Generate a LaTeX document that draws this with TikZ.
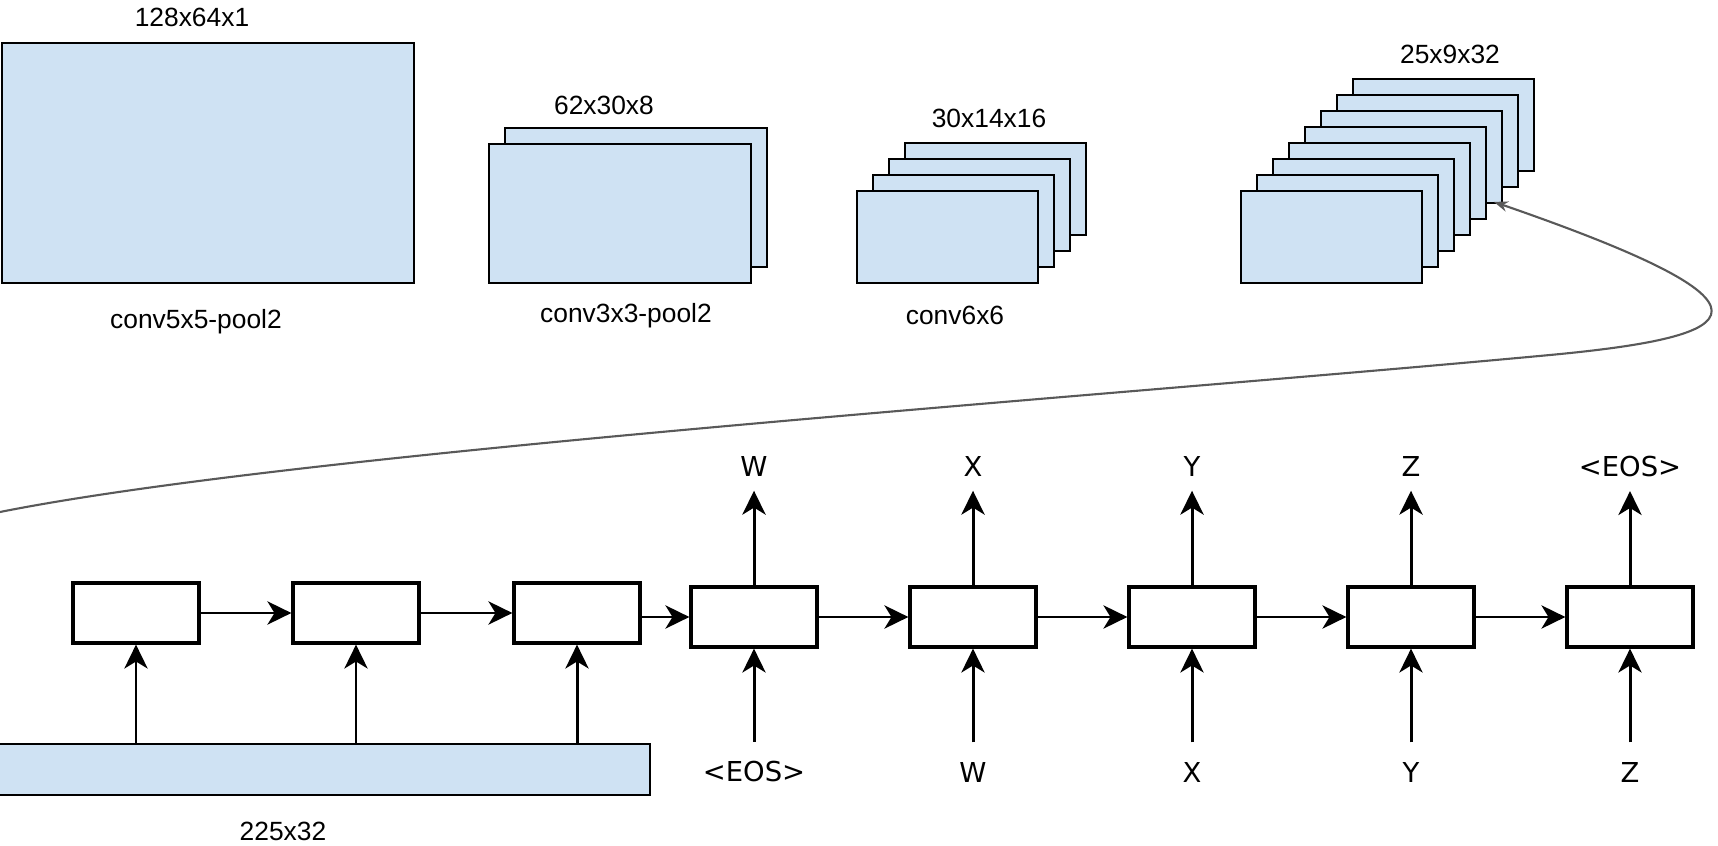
\documentclass[tikz,border=0pt]{standalone}
\usepackage{fontspec}
\setmainfont{Liberation Sans}
\newfontfamily\dejavu{DejaVu Sans}
\usetikzlibrary{arrows.meta}
\definecolor{fmapblue}{HTML}{CFE2F3}
\definecolor{linkgray}{HTML}{595959}

\begin{document}
\begin{tikzpicture}[x=0.01cm, y=-0.01cm,
        fmap/.style={draw, fill=fmapblue, line width=0.5pt, inner sep=0pt},
        cell/.style={draw, line width=0.9pt, minimum width=1.26cm, minimum height=0.6cm, inner sep=0pt},
        flow/.style={-{Stealth[length=6.8pt,width=6.6pt,inset=2pt]}, line width=0.85pt},
        link/.style={draw=linkgray, line width=0.6pt, -{Stealth[length=4pt,width=3pt]}},
        tok/.style={font=\dejavu\fontsize{7.8}{9}\selectfont, inner xsep=0pt},
        dim/.style={font=\fontsize{7.5}{9}\selectfont, inner sep=0pt}]
        \useasboundingbox (0,0) rectangle (1718,846);

        % conv layers
        \node (conv1) at (208,163)[fmap, minimum width=4.12cm, minimum height=2.4cm]{};
        \node (dimA) at (192,17)[dim]{128x64x1};
        \node (opA) at (196,322)[dim]{conv5x5-pool2};

        \foreach \i in {1,0}
            {
                \node (convB\i) at (620+16*\i, 213.5-16*\i)[fmap, minimum width=2.62cm, minimum height=1.39cm]{};
            }
        \node (dimB) at (604,105)[dim]{62x30x8};
        \node (opB) at (626,316)[dim]{conv3x3-pool2};

        \foreach \i in {3,...,0}
            {
                \node (convC\i) at (947.5+16*\i, 237-16*\i)[fmap, minimum width=1.81cm, minimum height=0.92cm]{};
            }
        \node (dimC) at (989,118)[dim]{30x14x16};
        \node (opC) at (955,315)[dim]{conv6x6};

        \foreach \i in {7,...,0}
            {
                \node (convD\i) at (1331.5+16*\i, 237-16*\i)[fmap, minimum width=1.81cm, minimum height=0.92cm]{};
            }
        \node (dimD) at (1450,54)[dim]{25x9x32};

        % feature sequence and encoder
        \node (feat) at (320,769.5)[fmap, minimum width=6.6cm, minimum height=0.51cm]{};
        \node (dimF) at (283,831)[dim]{225x32};

        \foreach \x [count=\n] in {136,356,577}
            {
                \node (enc\n) at (\x,613)[cell]{};
                \draw[flow] (enc\n |- feat.north) -- (enc\n);
            }
        \draw[flow] (enc1) -- (enc2);
        \draw[flow] (enc2) -- (enc3);

        % decoder
        \foreach \x/\inp/\outp [count=\n] in {754/<EOS>/W, 973/W/X, 1192/X/Y, 1411/Y/Z, 1630/Z/<EOS>}
            {
                \node (dec\n) at (\x,617)[cell]{};
                \node (in\n) at (\x,772)[tok, inner ysep=5.4pt]{\inp};
                \node (out\n) at (\x,467)[tok, inner ysep=3.7pt]{\outp};
                \draw[flow] (in\n) -- (dec\n);
                \draw[flow] (dec\n) -- (out\n);
            }
        \draw[flow] (enc3.east |- dec1.west) -- (dec1.west);
        \foreach \a/\b in {1/2,2/3,3/4,4/5}
            {
                \draw[flow] (dec\a) -- (dec\b);
            }

        \coordinate (seqin) at (0,512);
        \draw[link] (seqin) .. controls (300,452) and (1100,397) .. (1550,355)
            .. controls (1752,336) and (1795,306) .. ([shift={(-9,-2)}]convD5.south east);
    \end{tikzpicture}
\end{document}
